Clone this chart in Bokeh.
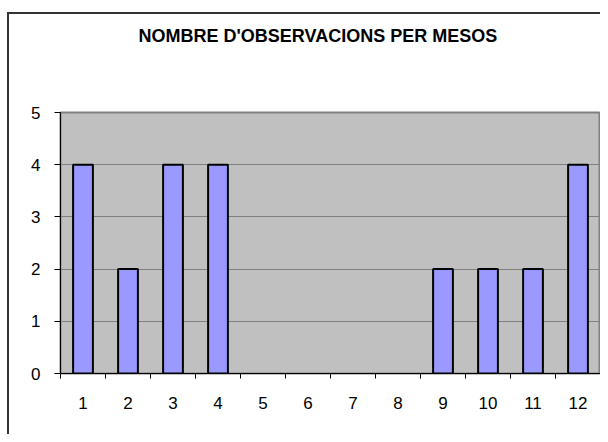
from bokeh.plotting import figure
from bokeh.models import FixedTicker, Range1d, Title, ColumnDataSource, CDSView, BooleanFilter
from bokeh.embed import file_html
from bokeh.resources import INLINE

months = [1, 2, 3, 4, 5, 6, 7, 8, 9, 10, 11, 12]
counts = [4, 2, 4, 4, 0, 0, 0, 0, 2, 2, 2, 4]
month_labels = [str(m) for m in months]
y_ticks = [0, 1, 2, 3, 4, 5]
title_text = "NOMBRE D'OBSERVACIONS PER MESOS"

FONT = "Liberation Sans"

p = figure(width=600, height=434, output_backend="svg", toolbar_location=None, title=None,
           x_range=Range1d(0.5, 12.5), y_range=Range1d(0, 5),
           min_border_left=60, min_border_right=0, min_border_top=112, min_border_bottom=61)

# outer chart border (left and top edges) drawn behind a transparent canvas border
p.border_fill_color = None
p.styles = {
    "background-color": "white",
    "background-image": "linear-gradient(#333333, #333333), linear-gradient(#333333, #333333)",
    "background-size": "2px 100%, 100% 2px",
    "background-position": "7px 12px, 7px 12px",
    "background-repeat": "no-repeat",
}

p.background_fill_color = "#C0C0C0"
p.outline_line_color = "#808080"
p.outline_line_width = 2

# white (invisible) spacer between the title and the plot area, then the title above it
spacer = Title(text=".", text_color="white", text_font_size="1px", standoff=64)
p.add_layout(spacer, "above")
chart_title = Title(text=title_text, align="left", offset=78, standoff=0,
                    text_font=FONT, text_font_style="bold", text_font_size="18px",
                    text_color="black")
p.add_layout(chart_title, "above")

source = ColumnDataSource(data=dict(month=months, count=counts))
view = CDSView(filter=BooleanFilter([c > 0 for c in counts]))
p.vbar(x="month", top="count", width=0.44, bottom=0, source=source, view=view,
       fill_color="#9999FF", line_color="black", line_width=2)

# axes
p.xaxis.ticker = FixedTicker(ticks=months, minor_ticks=[m - 0.5 for m in months] + [12.5])
p.xaxis.major_label_overrides = {m: s for m, s in zip(months, month_labels)}
p.xaxis.major_tick_line_color = None
p.xaxis.major_tick_out = 5
p.xaxis.major_tick_in = 0
p.xaxis.minor_tick_out = 5
p.xaxis.minor_tick_in = 0
p.xaxis.minor_tick_line_color = "black"
p.xaxis.axis_line_color = "black"
p.xaxis.major_label_standoff = 18

p.yaxis.ticker = FixedTicker(ticks=y_ticks)
p.yaxis.major_tick_out = 6
p.yaxis.major_tick_in = 0
p.yaxis.minor_tick_line_color = None
p.yaxis.axis_line_color = "black"
p.yaxis.major_label_standoff = 14

for ax in (p.xaxis, p.yaxis):
    ax.major_label_text_font = FONT
    ax.major_label_text_font_size = "17px"
    ax.major_label_text_color = "black"

p.xgrid.grid_line_color = None
p.ygrid.grid_line_color = "#808080"
p.ygrid.grid_line_width = 1

open("out.html", "w").write(file_html(p, INLINE))
